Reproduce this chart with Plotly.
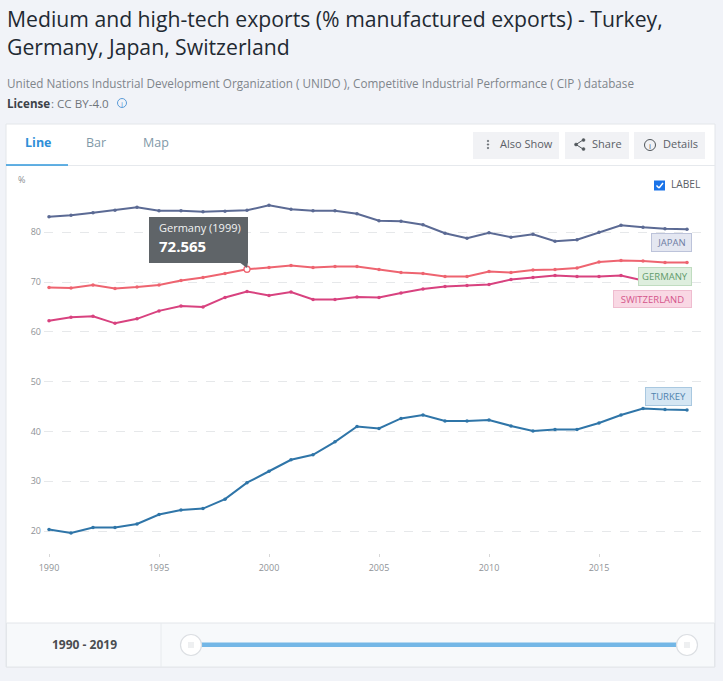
import plotly.graph_objects as go

W, H = 723, 681

years = list(range(1990, 2020))
japan = [83.1, 83.4, 83.9, 84.4, 85.0, 84.3, 84.3, 84.1, 84.2, 84.4, 85.4, 84.6, 84.3, 84.3, 83.7,
         82.3, 82.2, 81.5, 79.8, 78.8, 79.9, 79.0, 79.6, 78.2, 78.5, 80.0, 81.4, 81.0, 80.7, 80.6]
germany = [68.9, 68.8, 69.4, 68.7, 69.0, 69.4, 70.3, 70.9, 71.7, 72.565, 72.9, 73.3, 72.9, 73.1, 73.1,
           72.5, 71.9, 71.7, 71.1, 71.1, 72.1, 71.9, 72.4, 72.5, 72.8, 74.0, 74.3, 74.2, 73.9, 73.9]
switzerland = [62.2, 62.9, 63.1, 61.7, 62.6, 64.2, 65.2, 65.0, 66.9, 68.1, 67.3, 68.0, 66.5, 66.5, 67.0,
               66.9, 67.8, 68.6, 69.1, 69.3, 69.5, 70.5, 70.9, 71.3, 71.1, 71.1, 71.3, 70.3, 70.2, 70.2]
turkey = [20.3, 19.6, 20.7, 20.7, 21.4, 23.3, 24.2, 24.5, 26.4, 29.7, 32.0, 34.3, 35.3, 37.9, 41.0,
          40.6, 42.6, 43.3, 42.1, 42.1, 42.3, 41.1, 40.1, 40.4, 40.4, 41.7, 43.3, 44.6, 44.4, 44.3]
y_ticks = [20, 30, 40, 50, 60, 70, 80]
x_ticks = [1990, 1995, 2000, 2005, 2010, 2015]
series = [("Japan", japan, "#5b6a94"), ("Germany", germany, "#ee6470"),
          ("Switzerland", switzerland, "#d8427f"), ("Turkey", turkey, "#2f75a8")]
FONT = "Open Sans"


def px(x):
    return x / W


def py(y):
    return 1 - y / H


shapes, notes = [], []


def rect(x0, y0, x1, y1, fill, line=None, lw=1, layer="below"):
    shapes.append(dict(type="rect", xref="paper", yref="paper", x0=px(x0), x1=px(x1), y0=py(y0), y1=py(y1),
                       fillcolor=fill, line=dict(color=line or fill, width=lw if line else 0), layer=layer))


def circle(cx, cy, r, fill, line, lw=1, layer="above"):
    shapes.append(dict(type="circle", xref="paper", yref="paper", x0=px(cx - r), x1=px(cx + r), y0=py(cy - r),
                       y1=py(cy + r), fillcolor=fill, line=dict(color=line, width=lw), layer=layer))


def seg(x0, y0, x1, y1, color, lw=1, layer="above"):
    shapes.append(dict(type="line", xref="paper", yref="paper", x0=px(x0), x1=px(x1), y0=py(y0), y1=py(y1),
                       line=dict(color=color, width=lw), layer=layer))


def text(x, y, s, size, color, anchor="left", bold=False):
    notes.append(dict(xref="paper", yref="paper", x=px(x), y=py(y), text=f"<b>{s}</b>" if bold else s,
                      showarrow=False, xanchor=anchor, yanchor="middle", align=anchor,
                      font=dict(family=FONT, size=size, color=color), borderpad=0))


# page panels
rect(6, 124, 715, 667, "#ffffff", "#e3e6ea")
rect(6.5, 623, 714.5, 667, "#f7f9fb", "#e3e6ea")
seg(161, 623, 161, 667, "#e8ebee", layer="below")
seg(6, 165.5, 715, 165.5, "#e6e9ed", layer="below")
seg(6, 165, 68, 165, "#2f97db", 1.5, layer="below")

# heading
text(6, 19, "Medium and high-tech exports (% manufactured exports) - Turkey,", 21.2, "#1f2a33")
text(6, 46.5, "Germany, Japan, Switzerland", 21.2, "#1f2a33")
text(6, 83, "United Nations Industrial Development Organization ( UNIDO ), Competitive Industrial Performance ( CIP ) database",
     11.7, "#7f858b")
text(6, 103.5, "License", 11.6, "#3c4248", bold=True)
text(50, 103.5, ": CC BY-4.0", 11.6, "#6f757b")
circle(122, 103, 4.5, "rgba(0,0,0,0)", "#5b9bd8")
text(122, 103, "i", 8, "#5b9bd8", anchor="center")

# tabs
text(37.5, 142, "Line", 12.5, "#2f8fd8", anchor="center", bold=True)
text(96, 142, "Bar", 12.5, "#7f99a8", anchor="center")
text(155.5, 142, "Map", 12.5, "#7f99a8", anchor="center")

# buttons
rect(473, 132, 559, 159, "#f1f2f5")
rect(565, 132, 629, 159, "#f1f2f5")
rect(634, 132, 705, 159, "#f1f2f5")
text(499, 144, "Also Show", 11, "#5a6066")
text(591, 144, "Share", 11, "#5a6066")
text(662, 144, "Details", 11, "#5a6066")
for yy in (141, 144.5, 148):
    circle(488, yy, 0.8, "#555b60", "#555b60", 0.5)
seg(583, 140, 576, 144.5, "#50565b", 1)
seg(576, 144.5, 583, 149, "#50565b", 1)
for cx, cy in ((583.5, 140), (576, 144.5), (583.5, 149)):
    circle(cx, cy, 1.5, "#50565b", "#50565b", 0.5)
circle(650, 145, 5.5, "rgba(0,0,0,0)", "#50565b")
text(650, 145, "i", 8, "#50565b", anchor="center")

# label checkbox
rect(654, 180.5, 665, 190.5, "#1a73e8")
seg(656.5, 185.5, 659, 188, "#ffffff", 1.5)
seg(659, 188, 663, 183, "#ffffff", 1.5)
text(670, 184, "LABEL", 10.2, "#5a6066")

# range slider
text(84, 644.5, "1990 - 2019", 12, "#4a4d50", anchor="center", bold=True)
rect(200, 642.5, 678, 647, "#74b7e6", layer="above")
for cx in (191, 687):
    circle(cx, 645, 10.5, "#ffffff", "#dcdfe3", 1.2)
    for dx in (-2, 0, 2):
        seg(cx + dx, 642, cx + dx, 648, "#cfd3d7", 0.7)

# unit
text(17, 179, "%", 9, "#8a8f94")

# end-of-line labels, anchored to the last value of each series
labels = [("JAPAN", japan, 41, 19, 5, -13.5, "#e4e7f1", "#bcc3da", "#6d7ca3"),
          ("GERMANY", germany, 54, 19, 5, -13.5, "#deeede", "#c0dcc0", "#629b6c"),
          ("SWITZERLAND", switzerland, 79, 18, 5, -18, "#f9d8e4", "#efbccf", "#d4558b"),
          ("TURKEY", turkey, 47, 19, 5, 13.5, "#d5e6f3", "#a9c8e0", "#4f82ae")]
for name, vals, w, h, xs, ys, bg, bd, fc in labels:
    notes.append(dict(x=years[-1], y=vals[-1], xref="x", yref="y", text=name, showarrow=False, xanchor="right",
                      yanchor="middle", align="center", width=w - 2, height=h - 2, xshift=xs, yshift=ys, bgcolor=bg,
                      bordercolor=bd, borderwidth=1, borderpad=0, font=dict(family=FONT, size=9.5, color=fc)))

# tooltip
rect(149, 217, 248, 263, "#5f6468", layer="above")
shapes.append(dict(type="path", xref="paper", yref="paper", layer="above", fillcolor="#5f6468", line=dict(width=0),
                   path=f"M {px(239)} {py(262)} L {px(247)} {py(268)} L {px(248)} {py(262)} Z"))
text(158, 228, "Germany (1999)", 11, "#f2f3f4")
text(158, 246, f"{germany[years.index(1999)]:.3f}", 15, "#ffffff", bold=True)

fig = go.Figure()
for name, vals, color in series:
    fig.add_trace(go.Scatter(x=years, y=vals, name=name, mode="lines+markers", line=dict(color=color, width=2),
                             marker=dict(size=3.5, color=color), showlegend=False, hoverinfo="skip"))
fig.add_trace(go.Scatter(x=[1999], y=[germany[years.index(1999)]], mode="markers", showlegend=False, hoverinfo="skip",
                         marker=dict(size=6, color="#ffffff", line=dict(color="#ee6470", width=1.3))))

# axis windows: pixels per unit
PLOT_L, PLOT_R, PLOT_T, PLOT_B = 44, 705, 170, 553
fig.update_layout(
    width=W, height=H, margin=dict(l=0, r=0, t=0, b=0, autoexpand=False), paper_bgcolor="#f1f3f8",
    plot_bgcolor="rgba(0,0,0,0)",
    shapes=shapes, annotations=notes, hovermode=False,
    font=dict(family=FONT),
    xaxis=dict(domain=[px(PLOT_L), px(PLOT_R)], range=[1990 - 5 / 22, 1990 + (PLOT_R - 49) / 22], tickvals=x_ticks,
               ticks="outside", ticklen=3, tickcolor="#d8d8d8", showgrid=False, zeroline=False, showline=False,
               tickfont=dict(size=9, color="#8e9296", family=FONT), ticklabelstandoff=3),
    yaxis=dict(domain=[py(PLOT_B), py(PLOT_T)], range=[20 - (PLOT_B - 531) / 4.98, 20 + (531 - PLOT_T) / 4.98],
               tickvals=y_ticks, showgrid=True, gridcolor="#e6e8ea", griddash="dash", gridwidth=1, zeroline=False,
               showline=False, ticks="", tickfont=dict(size=9, color="#8e9296", family=FONT), ticklabelstandoff=2),
)
fig.write_html("out.html", config=dict(displayModeBar=False),
               post_script="document.body.style.margin='0';document.body.style.overflow='hidden';")
